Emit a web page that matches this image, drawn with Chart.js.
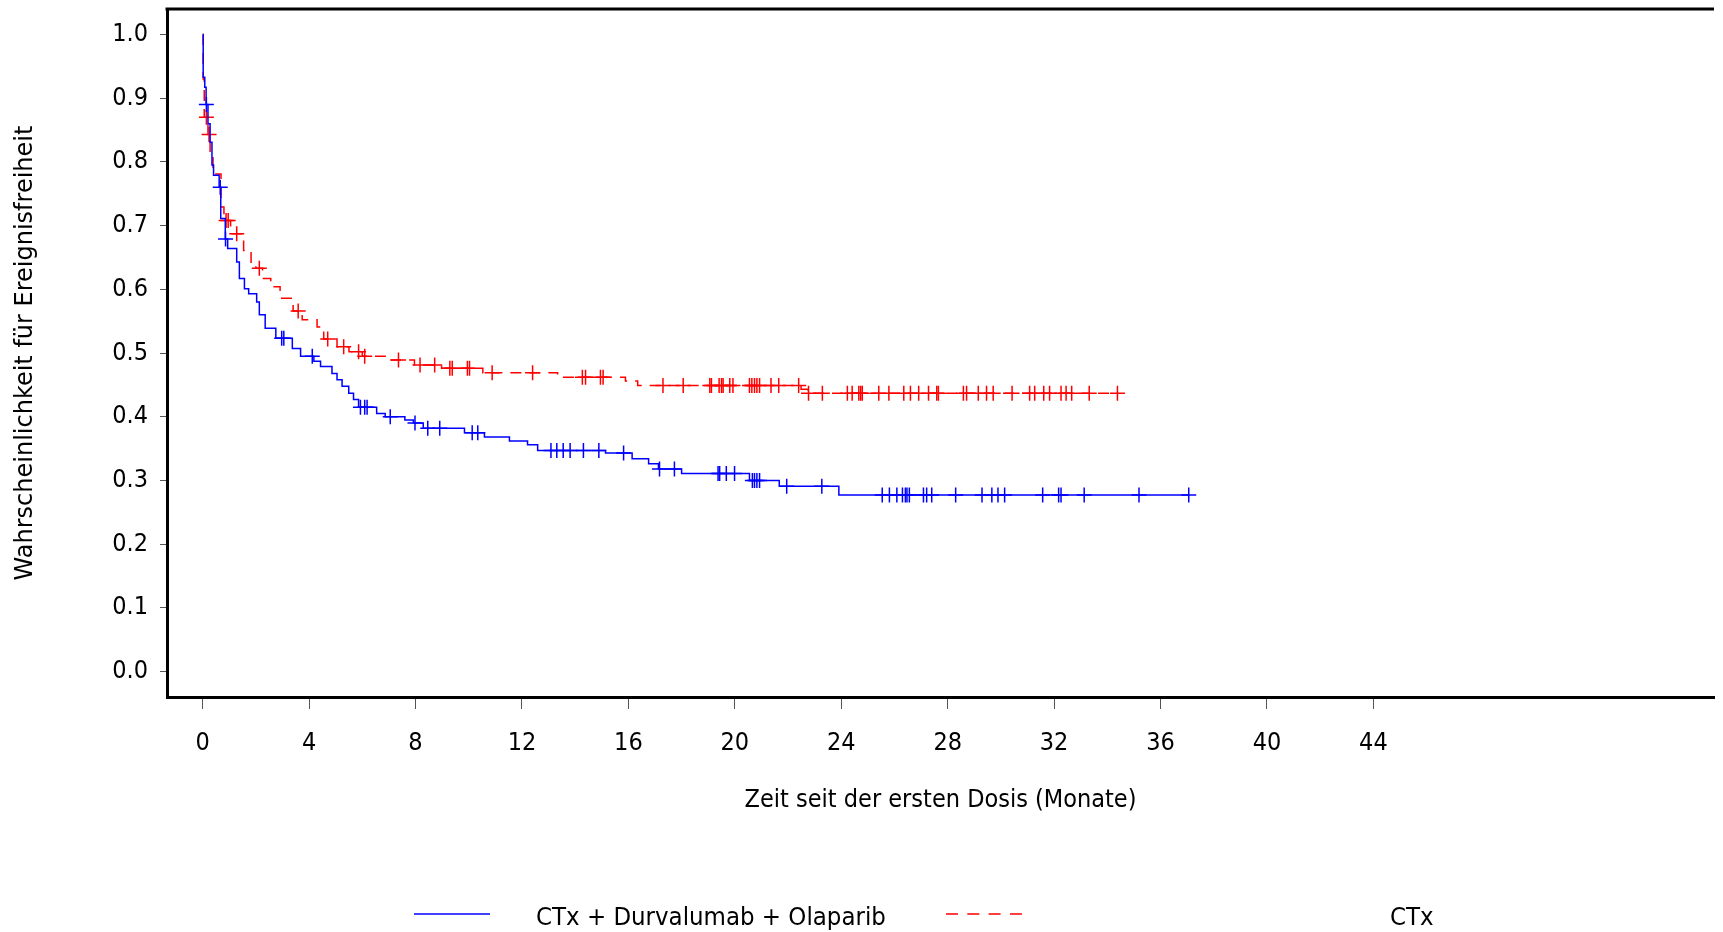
<!DOCTYPE html>
<html>
<head>
<meta charset="utf-8">
<script src="https://cdn.jsdelivr.net/npm/chart.js@4.4.1/dist/chart.umd.min.js"></script>
<style>
  html, body { margin: 0; padding: 0; background: #fff; }
</style>
</head>
<body>
<canvas id="kmChart" width="1723" height="932"></canvas>
<script>
// Series names
var blueName = "CTx + Durvalumab + Olaparib";
var redName = "CTx";

// CTx + Durvalumab + Olaparib: event times (months) and survival after each step
var blueTimes = [0, 0.02, 0.08, 0.13, 0.2, 0.28, 0.35, 0.41, 0.62, 0.68, 0.85, 0.94, 1.28, 1.38, 1.57, 1.73,
  2.03, 2.13, 2.35, 2.75, 3.37, 3.68, 4.18, 4.43, 4.86, 5.05, 5.24, 5.49, 5.67, 5.86, 6.54, 6.86, 7.6, 7.92,
  8.29, 9.84, 10.59, 11.53, 12.21, 12.59, 15.14, 16.14, 16.76, 17.13, 18.0, 20.55, 21.67, 23.91];
var blueSurv = [1.0, 0.933, 0.917, 0.89, 0.86, 0.831, 0.795, 0.779, 0.76, 0.711, 0.679, 0.664, 0.643, 0.617, 0.601, 0.593,
  0.58, 0.56, 0.539, 0.523, 0.507, 0.495, 0.487, 0.479, 0.468, 0.458, 0.448, 0.437, 0.427, 0.415, 0.405, 0.4, 0.395, 0.39,
  0.382, 0.375, 0.368, 0.362, 0.356, 0.347, 0.343, 0.334, 0.326, 0.318, 0.311, 0.3, 0.291, 0.277];
// censored observations (months)
var blueCensor = [0.14, 0.66, 0.86, 2.97, 3.05, 4.12, 5.93, 6.09, 6.18, 7.05, 7.98, 8.46, 8.91, 10.13, 10.34,
  13.09, 13.31, 13.55, 13.81, 14.31, 14.89, 15.82, 17.17, 17.73, 19.37, 19.43, 19.68, 19.99, 20.66, 20.74, 20.83,
  20.93, 21.95, 23.27, 25.54, 25.81, 26.09, 26.3, 26.41, 26.47, 26.56, 27.09, 27.21, 27.4, 28.3, 29.29, 29.66,
  29.89, 30.14, 31.57, 32.17, 32.26, 33.13, 35.19, 37.06];

// CTx
var redTimes = [0, 0.02, 0.06, 0.2, 0.28, 0.39, 0.69, 0.8, 1.05, 1.54, 1.82, 2.0, 2.25, 2.56, 2.91, 3.4, 3.74,
  4.3, 4.55, 5.05, 5.5, 6.0, 7.04, 7.96, 8.98, 10.53, 13.34, 15.89, 16.35, 22.49, 22.74];
var redSurv = [1.0, 0.93, 0.87, 0.843, 0.81, 0.781, 0.729, 0.708, 0.687, 0.661, 0.641, 0.633, 0.617, 0.604, 0.586, 0.566, 0.552,
  0.541, 0.522, 0.51, 0.502, 0.495, 0.489, 0.481, 0.476, 0.469, 0.462, 0.456, 0.449, 0.443, 0.437];
var redCensor = [0.14, 0.24, 0.88, 0.96, 1.28, 2.13, 3.59, 4.7, 5.3, 5.86, 6.09, 7.36, 8.17, 8.72, 9.29, 9.38,
  9.95, 10.03, 10.88, 12.4, 14.27, 14.39, 14.95, 15.05, 17.3, 18.06, 19.06, 19.12, 19.41, 19.5, 19.56, 19.81,
  19.93, 20.55, 20.64, 20.74, 20.83, 20.93, 21.36, 21.65, 22.4, 22.77, 23.29, 24.23, 24.41, 24.66, 24.73, 24.79,
  25.41, 25.79, 26.35, 26.6, 26.91, 27.28, 27.59, 27.65, 28.59, 28.71, 29.15, 29.46, 29.71, 30.42, 31.08, 31.27,
  31.61, 31.83, 32.26, 32.45, 32.66, 33.32, 34.38];

// tick labels
var xTickValues = [0, 4, 8, 12, 16, 20, 24, 28, 32, 36, 40, 44];
var yTickValues = [0.0, 0.1, 0.2, 0.3, 0.4, 0.5, 0.6, 0.7, 0.8, 0.9, 1.0];

var xTitle = "Zeit seit der ersten Dosis (Monate)";
var yTitle = "Wahrscheinlichkeit für Ereignisfreiheit";

var fontFamily = "'DejaVu Sans Condensed', 'DejaVu Sans', sans-serif";
var titleFamily = "'DejaVu Sans', sans-serif";

// step curve points, extended to the last censored time
function stepPoints(times, surv, censor) {
  var pts = times.map(function (t, i) { return { x: t, y: surv[i] }; });
  var last = censor[censor.length - 1];
  pts.push({ x: last, y: surv[surv.length - 1] });
  return pts;
}

// place each censor mark on the curve
function censorPoints(censor, times, surv) {
  return censor.map(function (t) {
    var v = surv[0];
    for (var i = 0; i < times.length; i++) {
      if (times[i] <= t) v = surv[i];
    }
    return { x: t, y: v };
  });
}

var frameTop = {
  id: 'frameTop',
  afterDraw: function (chart) {
    var ctx = chart.ctx, a = chart.chartArea;
    ctx.save();
    ctx.strokeStyle = '#000';
    ctx.lineWidth = 3;
    ctx.beginPath();
    ctx.moveTo(a.left - 1.5, a.top);
    ctx.lineTo(a.right, a.top);
    ctx.stroke();
    ctx.restore();
  }
};

// legend along the bottom
var bottomLegend = {
  id: 'bottomLegend',
  afterDraw: function (chart) {
    var ctx = chart.ctx;
    ctx.save();
    ctx.lineWidth = 1.5;
    ctx.strokeStyle = '#0000ff';
    ctx.beginPath();
    ctx.moveTo(414, 914);
    ctx.lineTo(490, 914);
    ctx.stroke();
    ctx.strokeStyle = '#ff0000';
    ctx.setLineDash([12, 9.3]);
    ctx.beginPath();
    ctx.moveTo(946, 914);
    ctx.lineTo(1022, 914);
    ctx.stroke();
    ctx.setLineDash([]);
    ctx.fillStyle = '#000';
    ctx.font = '25.5px ' + fontFamily;
    ctx.textBaseline = 'middle';
    ctx.textAlign = 'left';
    ctx.fillText(blueName, 536, 918);
    ctx.fillText(redName, 1390, 918);
    ctx.restore();
  }
};

var ctx = document.getElementById('kmChart').getContext('2d');

var kmChart = new Chart(ctx, {
  type: 'line',
  data: {
    datasets: [
      {
        label: blueName,
        data: stepPoints(blueTimes, blueSurv, blueCensor),
        stepped: 'before',
        borderColor: '#0000ff',
        borderWidth: 1.5,
        pointRadius: 0,
        fill: false,
        order: 1
      },
      {
        label: redName,
        data: stepPoints(redTimes, redSurv, redCensor),
        stepped: 'before',
        borderColor: '#ff0000',
        borderWidth: 1.5,
        borderDash: [11, 8],
        pointRadius: 0,
        fill: false,
        order: 3
      },
      {
        type: 'scatter',
        label: blueName + ' zensiert',
        data: censorPoints(blueCensor, blueTimes, blueSurv),
        showLine: false,
        pointStyle: 'cross',
        pointRadius: 7.5,
        pointBorderWidth: 1.5,
        borderColor: '#0000ff',
        order: 0
      },
      {
        type: 'scatter',
        label: redName + ' zensiert',
        data: censorPoints(redCensor, redTimes, redSurv),
        showLine: false,
        pointStyle: 'cross',
        pointRadius: 7.5,
        pointBorderWidth: 1.5,
        borderColor: '#ff0000',
        order: 2
      }
    ]
  },
  options: {
    responsive: false,
    animation: false,
    devicePixelRatio: 1,
    layout: { padding: { top: 7, right: 0, bottom: 0, left: 0 } },
    plugins: {
      legend: { display: false },
      tooltip: { enabled: false }
    },
    scales: {
      x: {
        type: 'linear',
        min: -1.34,
        max: 56.8,
        afterBuildTicks: function (scale) {
          scale.ticks = xTickValues.map(function (v) { return { value: v }; });
        },
        afterFit: function (scale) {
          scale.height = 235;
          scale.paddingLeft = 0;
          scale.paddingRight = 0;
        },
        ticks: {
          autoSkip: false,
          maxRotation: 0,
          color: '#000',
          padding: 19,
          font: { family: fontFamily, size: 25 },
          callback: function (v) { return String(v); }
        },
        grid: { drawOnChartArea: false, drawTicks: true, tickLength: 12, color: '#555' },
        border: { display: true, color: '#000', width: 3 },
        title: {
          display: true,
          text: xTitle,
          color: '#000',
          font: { family: fontFamily, size: 25 },
          padding: { top: 0, bottom: 117 }
        }
      },
      y: {
        type: 'linear',
        min: -0.04,
        max: 1.04,
        afterBuildTicks: function (scale) {
          scale.ticks = yTickValues.map(function (v) { return { value: v }; });
        },
        afterFit: function (scale) {
          scale.width = 167;
          scale.paddingTop = 0;
          scale.paddingBottom = 0;
        },
        ticks: {
          color: '#000',
          padding: 12,
          font: { family: fontFamily, size: 25 },
          callback: function (v) { return Number(v).toFixed(1); }
        },
        grid: { drawOnChartArea: false, drawTicks: true, tickLength: 7, color: '#555' },
        border: { display: true, color: '#000', width: 3 },
        title: {
          display: true,
          text: yTitle,
          color: '#000',
          font: { family: titleFamily, size: 24 },
          padding: { top: 11, bottom: 0 }
        }
      }
    }
  },
  plugins: [frameTop, bottomLegend]
});
</script>
</body>
</html>
